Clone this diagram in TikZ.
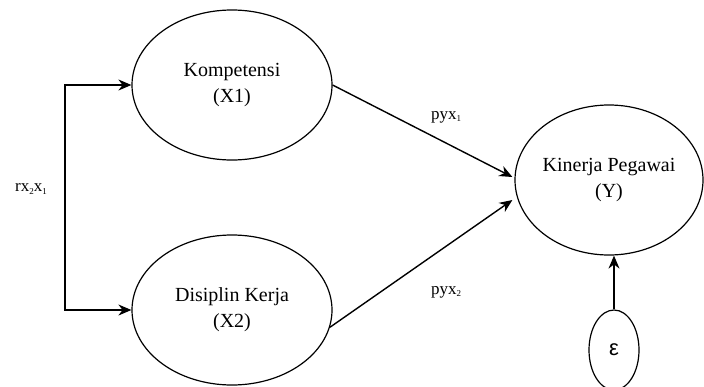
\documentclass[tikz,border=0pt]{standalone}
\usepackage{fontspec}
\setmainfont{Liberation Serif}
\newfontfamily\epsfont{Liberation Sans}
\usetikzlibrary{shapes.geometric,arrows.meta,calc}
\tikzset{
  var/.style={draw, ellipse, line width=1.2pt, inner sep=0pt, align=center,
    font=\fontsize{20}{26}\selectfont},
  arr/.style={line width=1.4pt, -{Stealth[length=13pt,width=11pt]}},
  lbl/.style={font=\fontsize{17}{20}\selectfont, inner sep=0pt},
}
\newcommand{\smallsub}[1]{\raisebox{-2.5pt}{\fontsize{9}{9}\selectfont #1}}
\begin{document}
\begin{tikzpicture}[x=1pt,y=-1pt]
\useasboundingbox (0,0) rectangle (704,386);
\node[var, minimum width=200pt, minimum height=150pt] (kom) at (232,85) {Kompetensi\\(X1)};
\node[var, minimum width=200pt, minimum height=150pt] (dis) at (232,310) {Disiplin Kerja\\(X2)};
\node[var, minimum width=188pt, minimum height=150pt] (kin) at (609,180) {Kinerja Pegawai\\(Y)};
\node[draw, ellipse, line width=1.2pt, minimum width=50pt, minimum height=80pt, inner sep=0pt,
  font=\epsfont\fontsize{22}{22}\selectfont] (eps) at (614,350) {ε};
\coordinate (bm) at (65,198);
\draw[arr] (bm) |- (kom.west);
\draw[arr] (bm) |- (dis.west);
\node[lbl] (r) at (31,189) {rx\smallsub{2}x\smallsub{1}};
\draw[arr] (kom.east) -- ($(kin.west)+(-2,-3)$);
\draw[arr] (dis.-10) -- ($(kin.west)+(-2,20)$);
\node[lbl] (p1) at (446,117) {pyx\smallsub{1}};
\node[lbl] (p2) at (446,292) {pyx\smallsub{2}};
\draw[arr] (eps.north) -- (eps.north |- kin.south);
\end{tikzpicture}
\end{document}
